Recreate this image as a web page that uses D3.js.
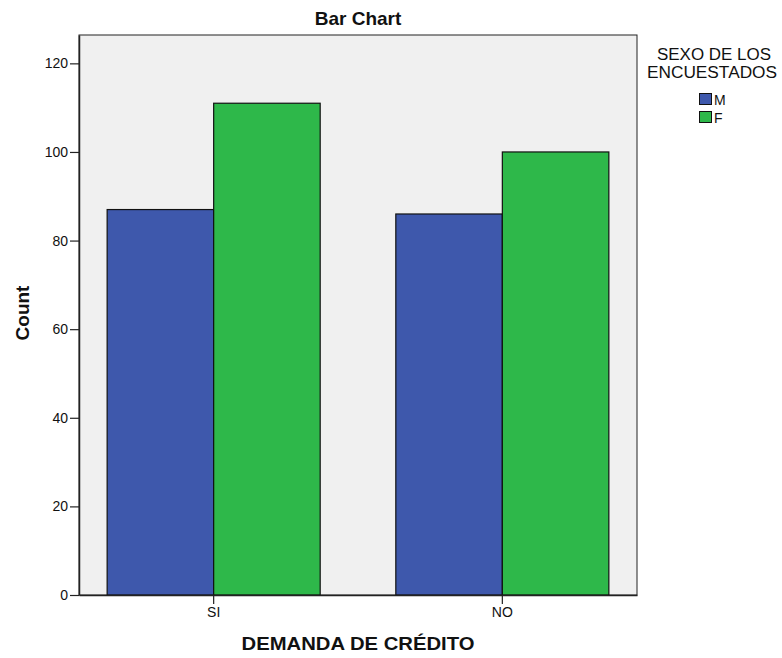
<!DOCTYPE html>
<html>
<head>
<meta charset="utf-8">
<script src="https://cdn.jsdelivr.net/npm/d3@7"></script>
<style>
  body { margin: 0; background: #fff; }
  svg { display: block; font-family: "Liberation Sans", Arial, sans-serif; }
</style>
</head>
<body>
<svg id="chart" width="782" height="658"></svg>
<script>
// Categories and counts per sex
const categories = ["SI", "NO"];
const groups = ["M", "F"];
const countsM = [87, 86];
const countsF = [111, 100];
const yTicks = [0, 20, 40, 60, 80, 100, 120];
const groupColors = ["#3e58ac", "#2eb84a"];

const svg = d3.select("#chart");
const plot = { left: 79, right: 637, top: 35, bottom: 595 };

const x = d3.scaleBand().domain(categories)
  .range([plot.left, plot.right]).paddingInner(0.262).paddingOuter(0.0975);
const xInner = d3.scaleBand().domain(groups).range([0, x.bandwidth()]);
const y = d3.scaleLinear().domain([0, 126.4]).range([plot.bottom, plot.top]);

// Plot background
svg.append("rect")
  .attr("x", plot.left).attr("y", plot.top)
  .attr("width", plot.right - plot.left).attr("height", plot.bottom - plot.top)
  .attr("fill", "#f0f0f0").attr("stroke", "#222").attr("stroke-width", 1);

// Bars
const rows = categories.map((c, i) => ({ cat: c, values: [countsM[i], countsF[i]] }));
const g = svg.append("g");
rows.forEach(r => {
  r.values.forEach((v, j) => {
    g.append("rect")
      .attr("x", x(r.cat) + xInner(groups[j]))
      .attr("y", y(v))
      .attr("width", xInner.bandwidth())
      .attr("height", y(0) - y(v))
      .attr("fill", groupColors[j])
      .attr("stroke", "#111").attr("stroke-width", 1.2);
  });
});

// Y axis
const yAxis = svg.append("g")
  .attr("transform", `translate(${plot.left},0)`)
  .call(d3.axisLeft(y).tickValues(yTicks).tickSizeInner(9).tickSizeOuter(0)
    .tickPadding(2).tickFormat(d3.format("d")));
yAxis.select(".domain").attr("stroke", "#222").attr("stroke-width", 1.5);
yAxis.selectAll(".tick line").attr("stroke", "#222").attr("stroke-width", 1.2);
yAxis.selectAll(".tick text").attr("font-size", 14).attr("fill", "#111")
  .attr("font-family", "Liberation Sans, Arial, sans-serif");

// X axis
const xAxis = svg.append("g")
  .attr("transform", `translate(0,${plot.bottom})`)
  .call(d3.axisBottom(x).tickSizeInner(9).tickSizeOuter(0).tickPadding(3));
xAxis.select(".domain").attr("stroke", "#222").attr("stroke-width", 1.5);
xAxis.selectAll(".tick line").attr("stroke", "#222").attr("stroke-width", 1.2);
xAxis.selectAll(".tick text").attr("font-size", 14).attr("fill", "#111")
  .attr("font-family", "Liberation Sans, Arial, sans-serif");

// Titles
svg.append("text").attr("x", 358).attr("y", 25).attr("text-anchor", "middle")
  .attr("font-size", 19).attr("font-weight", "bold").attr("fill", "#111").text("Bar Chart");
svg.append("text").attr("transform", "translate(29,313) rotate(-90)")
  .attr("text-anchor", "middle").attr("font-size", 19).attr("font-weight", "bold")
  .attr("fill", "#111").text("Count");
svg.append("text").attr("x", 241.5).attr("y", 650)
  .attr("font-size", 18.5).attr("font-weight", "bold").attr("fill", "#111")
  .attr("textLength", 233).attr("lengthAdjust", "spacingAndGlyphs")
  .text("DEMANDA DE CRÉDITO");

// Legend
const legend = svg.append("g");
legend.append("text").attr("x", 657).attr("y", 59.5)
  .attr("font-size", 16).attr("fill", "#111")
  .attr("textLength", 114).attr("lengthAdjust", "spacingAndGlyphs").text("SEXO DE LOS");
legend.append("text").attr("x", 647).attr("y", 78)
  .attr("font-size", 16).attr("fill", "#111")
  .attr("textLength", 130).attr("lengthAdjust", "spacingAndGlyphs").text("ENCUESTADOS");
groups.forEach((name, i) => {
  legend.append("rect").attr("x", 699.5).attr("y", 93.5 + i * 18)
    .attr("width", 12).attr("height", 11)
    .attr("fill", groupColors[i]).attr("stroke", "#111").attr("stroke-width", 1);
  legend.append("text").attr("x", 714).attr("y", 104.5 + i * 18)
    .attr("font-size", 14).attr("fill", "#111").text(name);
});
</script>
</body>
</html>
